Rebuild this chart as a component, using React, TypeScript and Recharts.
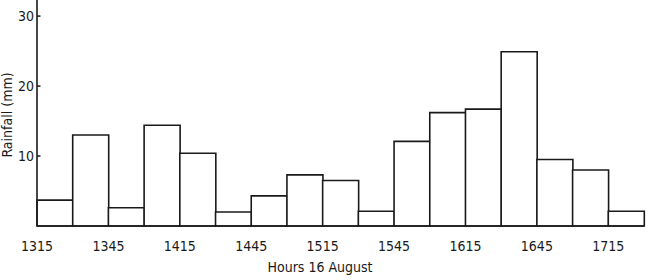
import React from 'react';
import { BarChart, Bar, XAxis, YAxis, Label } from 'recharts';

const periods = ['1315', '1330', '1345', '1400', '1415', '1430', '1445', '1500', '1515', '1530', '1545', '1600', '1615', '1630', '1645', '1700', '1715'];
const rainfall = [3.7, 13.0, 2.6, 14.4, 10.4, 2.0, 4.3, 7.3, 6.5, 2.1, 12.1, 16.2, 16.7, 24.9, 9.5, 8.0, 2.1];
const yTicks = [10, 20, 30];
const xLabels = ['1315', '1345', '1415', '1445', '1515', '1545', '1615', '1645', '1715'];

const data = periods.map((p, i) => ({ period: p, rain: rainfall[i] }));

const W = 649;
const H = 280;
const LEFT = 37;
const RIGHT = 5;
const FONT = "'DejaVu Sans Condensed', 'DejaVu Sans', sans-serif";
const INK = '#1a1a1a';
const band = (W - LEFT - RIGHT) / periods.length;

const XTick = (props: any) => {
  const { x, y, index } = props;
  if (index % 2 !== 0) return null;
  const label = xLabels[index / 2];
  return (
    <text x={x - band / 2} y={y + 17} textAnchor="middle" fontFamily={FONT} fontSize={14} fill={INK}>
      {label}
    </text>
  );
};

const YTick = (props: any) => {
  const { y, payload } = props;
  return (
    <g>
      <line x1={LEFT} x2={LEFT + 3.5} y1={y} y2={y} stroke={INK} strokeWidth={1.5} />
      <text x={LEFT - 3} y={y + 5} textAnchor="end" fontFamily={FONT} fontSize={14} fill={INK}>
        {payload.value}
      </text>
    </g>
  );
};

export default function App() {
  return (
    <div style={{ position: 'absolute', left: 0, top: 0, width: W, height: H, background: '#fff' }}>
      <BarChart width={W} height={H} data={data} margin={{ top: 0, right: RIGHT, bottom: 0, left: 0 }} barCategoryGap={0} barGap={0}>
        <XAxis
          dataKey="period"
          height={54}
          interval={0}
          tickLine={false}
          tick={<XTick />}
          axisLine={{ stroke: INK, strokeWidth: 1.6 }}
        >
          <Label
            content={() => (
              <text x={320} y={272} textAnchor="middle" fontFamily={FONT} fontSize={14} fill={INK}>
                Hours 16 August
              </text>
            )}
          />
        </XAxis>
        <YAxis
          width={LEFT}
          domain={[0, 32.3]}
          ticks={yTicks}
          tickLine={false}
          tickSize={0}
          tickMargin={4}
          tick={<YTick />}
          axisLine={{ stroke: INK, strokeWidth: 1.6 }}
        >
          <Label
            content={() => (
              <text transform="translate(12,115) rotate(-90)" textAnchor="middle" fontFamily={FONT} fontSize={14} fill={INK}>
                Rainfall (mm)
              </text>
            )}
          />
        </YAxis>
        <Bar dataKey="rain" fill="#fff" stroke={INK} strokeWidth={1.6} isAnimationActive={false} />
      </BarChart>
    </div>
  );
}
